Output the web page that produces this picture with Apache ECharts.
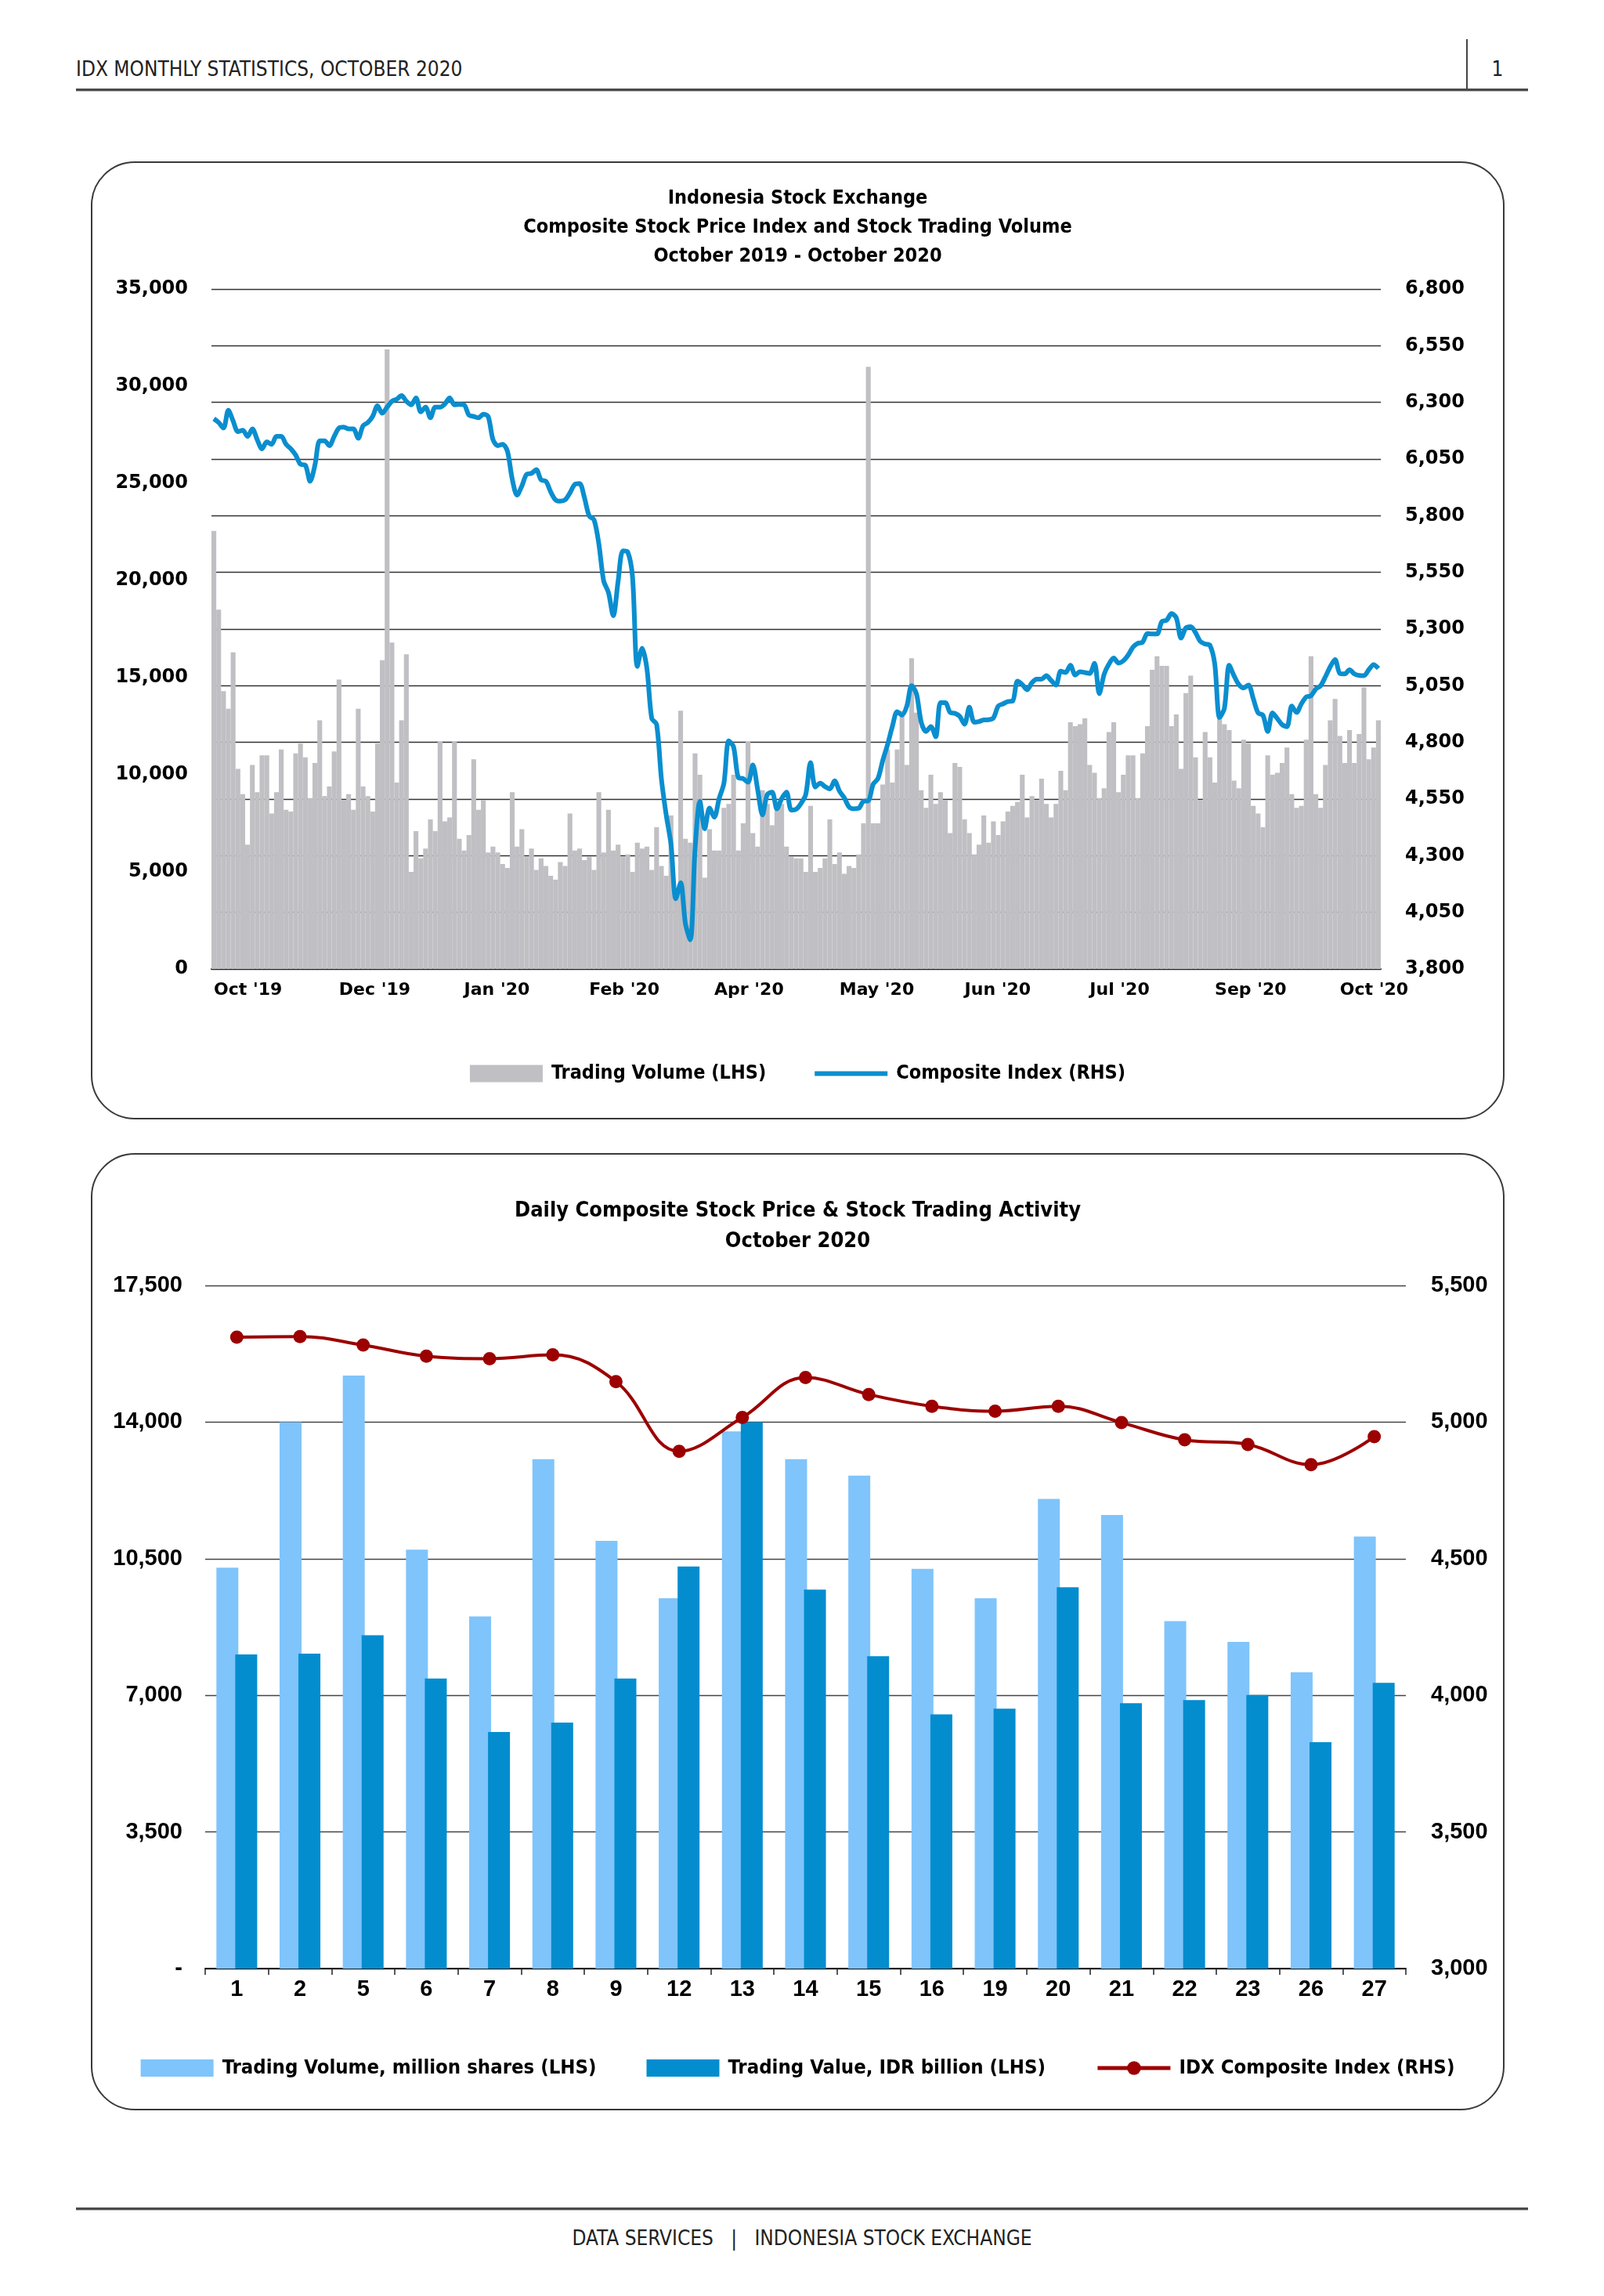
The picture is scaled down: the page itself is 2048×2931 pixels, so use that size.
<!DOCTYPE html>
<html>
<head>
<meta charset="utf-8">
<title>IDX Monthly Statistics, October 2020</title>
<script src="https://cdn.jsdelivr.net/npm/echarts@6/dist/echarts.min.js"></script>
<style>
  html, body { margin: 0; padding: 0; background: #fff; }
  body {
    position: relative; width: 2048px; height: 2931px; overflow: hidden;
    font-family: 'Liberation Sans Narrow', 'DejaVu Sans Condensed', 'Arial Narrow', sans-serif;
    color: #222;
  }
  .head-text { position: absolute; left: 97px; top: 72px; font-size: 26px; line-height: 32px; }
  .page-no { position: absolute; left: 1900px; top: 72px; width: 24px; text-align: center; font-size: 26px; line-height: 32px; }
  .head-sep { position: absolute; left: 1872px; top: 50px; width: 2px; height: 66px; background: #444; }
  .rule { position: absolute; left: 97px; width: 1854px; height: 3px; background: #4a4a4a; border-bottom: 1px solid #bbb; }
  .foot-text { position: absolute; left: 0; width: 2048px; top: 2841px; text-align: center; font-size: 26px; line-height: 32px; }
  .panel { position: absolute; left: 116px; width: 1801px; border: 2px solid #3a3a3a; border-radius: 56px; }
  .chart { position: absolute; left: 116px; width: 1805px; }
</style>
</head>
<body>
<div class="head-text">IDX MONTHLY STATISTICS, OCTOBER 2020</div>
<div class="head-sep"></div>
<div class="page-no">1</div>
<div class="rule" style="top:113px"></div>

<div class="panel" style="top:206px;height:1219px"></div>
<div class="chart" id="chart-top" style="top:206px;height:1223px"></div>

<div class="panel" style="top:1472px;height:1218px"></div>
<div class="chart" id="chart-bottom" style="top:1472px;height:1222px"></div>

<div class="rule" style="top:2818px"></div>
<div class="foot-text">DATA SERVICES&nbsp;&nbsp;&nbsp;|&nbsp;&nbsp;&nbsp;INDONESIA STOCK EXCHANGE</div>

<script>
// ---- Top chart data: daily, 31 Oct 2019 - Oct 2020 ----
var topTitle = ["Indonesia Stock Exchange", "Composite Stock Price Index and Stock Trading Volume", "October 2019 - October 2020"];
var monthTicks = ["Oct '19", "Dec '19", "Jan '20", "Feb '20", "Apr '20", "May '20", "Jun '20", "Jul '20", "Sep '20", "Oct '20"];
var labelEvery = 26;
var indexTicks = [3800, 4050, 4300, 4550, 4800, 5050, 5300, 5550, 5800, 6050, 6300, 6550, 6800];

// trading volume, million shares (LHS)
var volume = [
  22550, 18500, 14300, 13400, 16300, 10300, 9000, 6400, 10500, 9100,
  11000, 11000, 8000, 9100, 11300, 8200, 8100, 11100, 11600, 10900,
  8800, 10600, 12800, 8900, 9400, 11200, 14900, 8700, 9000, 8200,
  13400, 9400, 8900, 8100, 11600, 15900, 31900, 16800, 9600, 12800,
  16200, 5000, 7100, 5700, 6200, 7700, 7100, 11700, 7600, 7800,
  11700, 6700, 6100, 6900, 10800, 8200, 8700, 6000, 6300, 6000,
  5400, 5200, 9100, 6300, 7200, 5800, 6200, 5100, 5700, 5300,
  4800, 4600, 5500, 5300, 8000, 6100, 6200, 5600, 5800, 5100,
  9100, 6000, 8200, 6100, 6400, 5800, 5900, 5000, 6500, 6200,
  6300, 5100, 7300, 5300, 4800, 7900, 4000, 13300, 6700, 6500,
  11100, 10000, 4700, 7200, 6100, 6100, 8300, 8500, 10000, 6100,
  7500, 11700, 7000, 6300, 9200, 8500, 7400, 8200, 8500, 6300,
  5800, 5700, 5700, 5000, 8400, 5000, 5200, 5700, 7700, 5400,
  6000, 4900, 5300, 5200, 5900, 7500, 31000, 7500, 7500, 9500,
  11300, 9600, 11300, 13300, 10500, 16000, 13200, 9200, 8300, 10000,
  8500, 9100, 8700, 7000, 10600, 10400, 7700, 7000, 5900, 6400,
  7900, 6500, 7600, 6900, 7600, 8100, 8400, 8600, 10000, 7800,
  8900, 8700, 9800, 8500, 7800, 8500, 10200, 9200, 12700, 12500,
  12600, 12900, 10500, 10100, 8800, 9300, 12200, 12700, 9100, 10000,
  11000, 11000, 8800, 11100, 12500, 15400, 16100, 15600, 15600, 12500,
  13100, 10300, 14200, 15100, 10900, 8700, 12200, 10900, 9600, 13100,
  12600, 12300, 9700, 9300, 11800, 11600, 8400, 8000, 7300, 11000,
  10000, 10100, 10600, 11400, 9000, 8300, 8400, 11800, 16100, 9000,
  8300, 10500, 12800, 13900, 12000, 10600, 12300, 10600, 12100, 14500,
  10800, 11400, 12800
];

// composite index close (RHS)
var composite = [
  6228, 6211, 6187, 6265, 6218, 6171, 6177, 6150, 6183, 6136,
  6095, 6126, 6115, 6150, 6150, 6115, 6095, 6068, 6027, 6023,
  5952, 6023, 6130, 6130, 6109, 6150, 6187, 6191, 6183, 6183,
  6142, 6197, 6211, 6238, 6285, 6252, 6279, 6305, 6314, 6330,
  6305, 6289, 6320, 6258, 6279, 6232, 6279, 6279, 6293, 6320,
  6289, 6291, 6289, 6244, 6238, 6232, 6248, 6238, 6136, 6109,
  6115, 6085, 5962, 5891, 5931, 5983, 5987, 6003, 5958, 5952,
  5905, 5870, 5864, 5870, 5901, 5938, 5942, 5880, 5799, 5782,
  5676, 5513, 5461, 5359, 5510, 5645, 5640, 5530, 5135, 5215,
  5124, 4905, 4880, 4640, 4480, 4350, 4110, 4180, 4000, 3929,
  4330, 4540, 4419, 4510, 4470, 4552, 4620, 4807, 4780, 4644,
  4640, 4624, 4700, 4593, 4480, 4570, 4580, 4507, 4552, 4580,
  4501, 4505, 4530, 4570, 4711, 4603, 4620, 4605, 4595, 4630,
  4585, 4556, 4515, 4507, 4509, 4540, 4542, 4615, 4640, 4720,
  4790, 4870, 4935, 4920, 4960, 5050, 5015, 4889, 4848, 4870,
  4825, 4975, 4975, 4932, 4928, 4915, 4880, 4955, 4889, 4892,
  4899, 4900, 4908, 4960, 4970, 4980, 4982, 5070, 5055, 5032,
  5063, 5079, 5079, 5094, 5073, 5053, 5114, 5108, 5140, 5097,
  5112, 5108, 5104, 5149, 5015, 5100, 5145, 5172, 5150, 5160,
  5185, 5220, 5237, 5242, 5280, 5278, 5278, 5333, 5339, 5368,
  5350, 5260, 5305, 5310, 5284, 5245, 5234, 5228, 5145, 4910,
  4950, 5140, 5094, 5055, 5040, 5053, 4993, 4930, 4920, 4848,
  4930, 4905, 4878, 4869, 4960, 4932, 4970, 5000, 5006, 5035,
  5050, 5090, 5134, 5165, 5104, 5102, 5120, 5102, 5095, 5094,
  5120, 5143, 5126
];

// ---- Bottom chart data: October 2020 ----
var bottomTitle = ["Daily Composite Stock Price & Stock Trading Activity", "October 2020"];
var octDays = ["1", "2", "5", "6", "7", "8", "9", "12", "13", "14", "15", "16", "19", "20", "21", "22", "23", "26", "27"];
var octVolume = [10270, 14000, 15190, 10730, 9020, 13050, 10960, 9490, 13760, 13050, 12630, 10240, 9490, 12030, 11620, 8900, 8370, 7590, 11070];
var octValue = [8050, 8070, 8540, 7430, 6060, 6300, 7430, 10300, 14000, 9710, 8000, 6510, 6660, 9770, 6800, 6880, 7010, 5800, 7320];
var octIndex = [5311, 5313, 5282, 5241, 5232, 5246, 5148, 4893, 5017, 5163, 5101, 5058, 5040, 5058, 4998, 4935, 4918, 4844, 4947];

var NARROW = "'Liberation Sans Narrow', 'DejaVu Sans Condensed', 'Arial Narrow', sans-serif";
var WIDE = "'DejaVu Sans', Verdana, sans-serif";
var ARIAL = "'Liberation Sans', Arial, sans-serif";
var LINE_ICON = "path://M0,0L93,0L93,6L0,6Z";

function thousands(v) {
  return Number(v).toLocaleString("en-US");
}

var tradingDays = volume.map(function (v, i) { return String(i + 1); });

// top chart
var chartTop = echarts.init(document.getElementById("chart-top"));
chartTop.setOption({
  animation: false,
  title: {
    text: topTitle.join("\n"),
    left: "center",
    top: 24,
    textStyle: { fontFamily: NARROW, fontWeight: "bold", fontSize: 25, lineHeight: 37, color: "#000" }
  },
  legend: {
    top: 1147,
    left: "center",
    itemWidth: 93,
    itemHeight: 22,
    itemGap: 62,
    textStyle: { fontFamily: NARROW, fontWeight: "bold", fontSize: 25, color: "#000", padding: [0, 0, 0, 6] },
    data: [
      { name: "Trading Volume (LHS)", icon: "rect" },
      { name: "Composite Index (RHS)", icon: LINE_ICON }
    ]
  },
  grid: { left: 154, right: 158, top: 163, bottom: 192 },
  xAxis: {
    type: "category",
    data: tradingDays,
    axisLine: { lineStyle: { color: "#222", width: 2 } },
    axisTick: { show: false },
    axisLabel: {
      interval: labelEvery - 1,
      align: "left",
      margin: 16,
      fontFamily: WIDE,
      fontWeight: "bold",
      fontSize: 22,
      color: "#000",
      formatter: function (v, i) { return monthTicks[i / labelEvery] || ""; }
    }
  },
  yAxis: [
    {
      type: "value",
      min: 0,
      max: 35000,
      interval: 5000,
      splitLine: { show: false },
      axisLabel: { margin: 30, fontFamily: WIDE, fontWeight: "bold", fontSize: 24, color: "#000", formatter: thousands }
    },
    {
      type: "value",
      position: "right",
      min: 3800,
      max: 6800,
      axisLine: { show: false },
      axisTick: { show: false, customValues: indexTicks },
      axisLabel: { customValues: indexTicks, margin: 31, fontFamily: WIDE, fontWeight: "bold", fontSize: 24, color: "#000", formatter: thousands },
      splitLine: { show: true, lineStyle: { color: "#333", width: 1.3 } }
    }
  ],
  series: [
    {
      name: "Trading Volume (LHS)",
      type: "bar",
      data: volume,
      barCategoryGap: "0%",
      itemStyle: { color: "#c0bfc3" }
    },
    {
      name: "Composite Index (RHS)",
      type: "line",
      yAxisIndex: 1,
      data: composite,
      symbol: "none",
      smooth: 0.3,
      lineStyle: { color: "#0a8ecf", width: 6 },
      itemStyle: { color: "#0a8ecf" }
    }
  ]
});

// bottom chart
var chartBottom = echarts.init(document.getElementById("chart-bottom"));
chartBottom.setOption({
  animation: false,
  title: {
    text: bottomTitle.join("\n"),
    left: "center",
    top: 49,
    textStyle: { fontFamily: NARROW, fontWeight: "bold", fontSize: 27, lineHeight: 39, color: "#000" }
  },
  legend: {
    top: 1150,
    left: "center",
    width: 1760,
    itemWidth: 93,
    itemHeight: 22,
    itemGap: 64,
    textStyle: { fontFamily: NARROW, fontWeight: "bold", fontSize: 25.5, color: "#000", padding: [0, 0, 0, 6] },
    data: [
      { name: "Trading Volume, million shares (LHS)", icon: "rect" },
      { name: "Trading Value, IDR billion (LHS)", icon: "rect" },
      { name: "IDX Composite Index (RHS)", lineStyle: { width: 5 } }
    ]
  },
  grid: { left: 146, right: 126, top: 169, bottom: 181 },
  xAxis: {
    type: "category",
    data: octDays,
    axisLine: { lineStyle: { color: "#222", width: 2 } },
    axisTick: { show: true, length: 8, lineStyle: { color: "#222", width: 1.5 } },
    axisLabel: { margin: 12, fontFamily: ARIAL, fontWeight: "bold", fontSize: 29, color: "#000" }
  },
  yAxis: [
    {
      type: "value",
      min: 0,
      max: 17500,
      interval: 3500,
      splitLine: { lineStyle: { color: "#444", width: 1.3 } },
      axisLabel: {
        margin: 29, fontFamily: ARIAL, fontWeight: "bold", fontSize: 29, color: "#000",
        formatter: function (v) { return v === 0 ? "-" : thousands(v); }
      }
    },
    {
      type: "value",
      position: "right",
      min: 3000,
      max: 5500,
      interval: 500,
      splitLine: { show: false },
      axisLabel: { margin: 32, fontFamily: ARIAL, fontWeight: "bold", fontSize: 29, color: "#000", formatter: thousands }
    }
  ],
  series: [
    {
      name: "Trading Volume, million shares (LHS)",
      type: "bar",
      data: octVolume,
      barWidth: 28,
      barGap: "-14%",
      itemStyle: { color: "#7fc4fb" }
    },
    {
      name: "Trading Value, IDR billion (LHS)",
      type: "bar",
      data: octValue,
      barWidth: 28,
      itemStyle: { color: "#038dcf" }
    },
    {
      name: "IDX Composite Index (RHS)",
      type: "line",
      yAxisIndex: 1,
      data: octIndex,
      smooth: 0.4,
      symbol: "circle",
      symbolSize: 17,
      lineStyle: { color: "#9c0000", width: 4 },
      itemStyle: { color: "#9c0000" }
    }
  ]
});
</script>
</body>
</html>
